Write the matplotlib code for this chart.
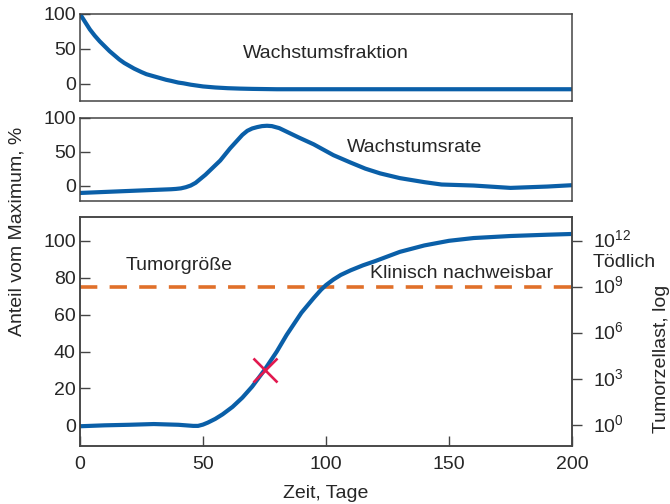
import matplotlib
matplotlib.use("Agg")
import matplotlib.pyplot as plt
from matplotlib.transforms import blended_transform_factory, ScaledTranslation

plt.rcParams['font.family'] = ['Liberation Sans', 'DejaVu Sans']
plt.rcParams['mathtext.fontset'] = 'custom'
plt.rcParams['mathtext.rm'] = 'Liberation Sans'
plt.rcParams['mathtext.it'] = 'Liberation Sans'

# ---- data ----
frac_x = [0, 2, 4, 6, 8, 10, 12, 14, 16, 18, 20, 22, 25, 27, 30, 32, 35, 37, 40, 42, 45,
          47, 50, 55, 60, 65, 70, 80, 100, 150, 200]
frac_y = [100, 89, 78, 69, 61, 54, 47, 41, 35, 30, 26, 22, 17, 14, 11, 9, 6, 4.5, 2, 1, -1,
          -2, -3.5, -5, -6, -6.6, -7, -7.5, -7.5, -7.5, -7.5]

rate_x = [0, 10, 20, 30, 37, 39, 41, 43, 45, 47, 49, 51, 53, 55, 57, 59, 61, 64, 66, 68, 70,
          72, 74, 76, 78, 81, 85, 89, 95, 100, 103, 110, 116, 122, 130, 140, 147, 160, 175,
          190, 200]
rate_y = [-11, -9.5, -8, -6.5, -5.5, -5, -4.2, -2.5, 0, 4, 10, 16, 23, 30, 37, 46, 55, 67,
          75, 81, 84.5, 86.5, 88, 88.5, 88, 85, 78, 71, 61, 51, 45, 34, 25, 18, 11, 5, 1.5,
          0, -3.5, -1.5, 0.5]

size_x = [0, 10, 20, 30, 40, 46, 48, 50, 52, 55, 58, 62, 66, 70, 75, 80, 84, 90, 95, 98,
          100, 103, 106, 110, 115, 120, 130, 140, 150, 160, 175, 190, 200]
size_y = [-0.5, 0, 0.3, 0.7, 0.3, -0.3, -0.3, 0.4, 1.5, 3.5, 6, 10, 15, 21, 30, 40, 49, 61,
          69, 73.5, 76, 79, 81.5, 84, 86.7, 89, 94, 97.5, 100, 101.5, 102.6, 103.3, 103.7]

detect_level = 75
marker_x = [75]
marker_y = [30]

left_ticks = [0, 20, 40, 60, 80, 100]
small_ticks = [0, 50, 100]
x_ticks = [0, 50, 100, 150, 200]
log_exps = [0, 3, 6, 9, 12]

BLUE = '#0a5fa8'
ORANGE = '#e0702a'
RED = '#e2194f'
SPINE = '#444444'
TXT = '#262626'
FS = 14

fig = plt.figure(figsize=(6.7, 5.04), dpi=100)
W, H = 670.0, 504.0
L, R = 80 / W, 572 / W

def add_ax(top_px, bot_px):
    return fig.add_axes([L, 1 - bot_px / H, R - L, (bot_px - top_px) / H])

ax1 = add_ax(14, 101)
ax2 = add_ax(118, 201)
ax3 = add_ax(217, 446)

for ax in (ax1, ax2, ax3):
    for s in ax.spines.values():
        s.set_color(SPINE)
        s.set_linewidth(1.1)
    ax.set_xlim(0, 200)
    ax.tick_params(axis='y', direction='in', length=7, width=1.0, color=SPINE,
                   labelsize=FS, labelcolor=TXT, pad=3)
    ax.tick_params(axis='x', direction='in', length=7, width=1.0, color=SPINE,
                   labelsize=FS, labelcolor=TXT, pad=7)

line_kw = dict(color=BLUE, lw=3, solid_capstyle='butt', solid_joinstyle='round')

# top panel
ax1.plot(frac_x, frac_y, **line_kw)
ax1.set_ylim(-24.3, 100)
ax1.set_yticks(small_ticks)
ax1.set_xticks([])
ax1.text(100, 44, 'Wachstumsfraktion', fontsize=FS, color=TXT, ha='center', va='center')

# middle panel
ax2.plot(rate_x, rate_y, **line_kw)
ax2.set_ylim(-22.9, 100)
ax2.set_yticks(small_ticks)
ax2.set_xticks([])
ax2.text(136, 57, 'Wachstumsrate', fontsize=FS, color=TXT, ha='center', va='center')

# bottom panel
ax3.axhline(detect_level, color=ORANGE, lw=2.6, dashes=(4.8, 3.4))
ax3.plot(size_x, size_y, **line_kw)
ax3.plot(marker_x, marker_y, marker='x', color=RED, ms=17, mew=1.9, ls='none')
ax3.set_ylim(-11.2, 112.9)
ax3.set_yticks(left_ticks)
ax3.set_xticks(x_ticks)
ax3.text(40.3, 86.8, 'Tumorgröße', fontsize=FS, color=TXT, ha='center', va='center')
ax3.text(155, 82.3, 'Klinisch nachweisbar', fontsize=FS, color=TXT, ha='center', va='center')

ax4 = ax3.twinx()
ax4.set_ylim(-11.2 * 0.12, 112.9 * 0.12)
ax4.set_yticks(log_exps)
ax4.set_yticklabels([r'$\mathregular{10^{%d}}$' % e for e in log_exps])
ax4.tick_params(axis='y', direction='out', length=7, width=1.0, color=SPINE,
                labelsize=FS, labelcolor=TXT, pad=8)
for s in ax4.spines.values():
    s.set_color(SPINE)
    s.set_linewidth(1.1)
up = ScaledTranslation(0, 2.5 / 100, fig.dpi_scale_trans)
for lab in ax4.get_yticklabels():
    lab.set_transform(lab.get_transform() + up)

trans = blended_transform_factory(ax3.transAxes, ax3.transData)
ax3.text((593 - 80) / (572 - 80), 88.4, 'Tödlich', fontsize=FS, color=TXT,
         ha='left', va='center', transform=trans)

fig.text(17.5 / W, 1 - 231 / H, 'Anteil vom Maximum, %', rotation=90, fontsize=FS,
         color=TXT, ha='center', va='center')
fig.text(662 / W, 1 - 359 / H, 'Tumorzellast, log', rotation=90, fontsize=FS,
         color=TXT, ha='center', va='center')
fig.text(326 / W, 1 - 493 / H, 'Zeit, Tage', fontsize=FS, color=TXT,
         ha='center', va='center')

fig.savefig('out.png', dpi=100)
